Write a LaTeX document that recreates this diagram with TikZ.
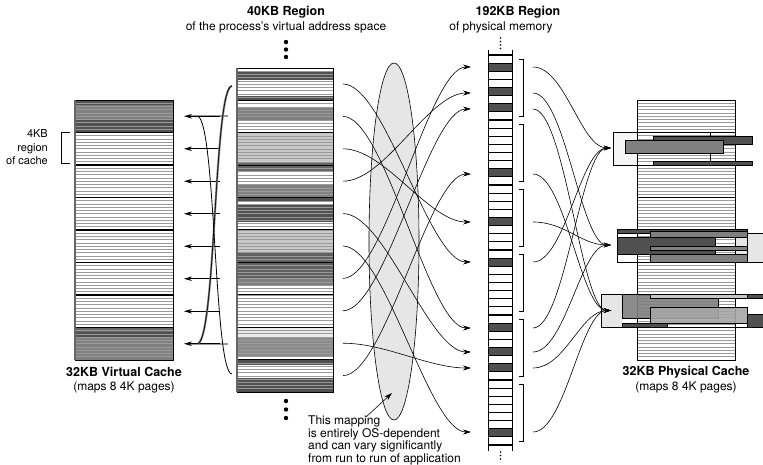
\documentclass[tikz,border=0pt]{standalone}
\usepackage{fontspec}
\setmainfont{TeX Gyre Heros}
\usetikzlibrary{arrows.meta}
\definecolor{dk}{HTML}{505050}
\definecolor{md}{HTML}{808080}
\definecolor{lt}{HTML}{C8C8C8}
\definecolor{vl}{HTML}{E6E6E6}
\definecolor{stripe}{HTML}{9A9A9A}
\begin{document}
\begin{tikzpicture}[x=1pt,y=-1pt,
  title/.style={font=\bfseries\fontsize{12.5}{14}\selectfont, inner sep=0pt},
  sub/.style={font=\fontsize{12}{14}\selectfont, inner sep=0pt},
  note/.style={font=\fontsize{12}{13}\selectfont, inner sep=0pt, anchor=base west},
  lab/.style={font=\fontsize{11}{12}\selectfont, inner sep=0pt, anchor=base east},
  map/.style={line width=0.6pt, -{Stealth[length=8pt,width=5pt]}},
  bar/.style={draw=black, line width=0.5pt},
  dot/.style={fill=black}
  ]
\useasboundingbox (0,0) rectangle (763,465);
\fill[white] (0,0) rectangle (763,465);

% ---------------- titles
\node[title] (t40) at (286,12) {40KB Region};
\node[sub] (s40) at (286,27) {of the process's virtual address space};
\node[title] (t192) at (518,12) {192KB Region};
\node[sub] (s192) at (501,27) {of physical memory};
\node[title] (tvc) at (124,372) {32KB Virtual Cache};
\node[sub] (svc) at (124,387) {(maps 8 4K pages)};
\node[title] (tpc) at (686,372) {32KB Physical Cache};
\node[sub] (spc) at (686,387) {(maps 8 4K pages)};

% ---------------- left virtual cache
\fill[white] (75,100) rectangle (173,360);
\fill[dk] (75,100) rectangle (173,105);
\fill[md] (75,105) rectangle (173,120);
\fill[dk] (75,120) rectangle (173,133);
\fill[black!60] (75,327) rectangle (173,332);
\fill[dk] (75,332) rectangle (173,338);
\fill[md] (75,338) rectangle (173,360);
\foreach \i in {1,...,79} \draw[stripe, line width=0.6pt] (75,{100+3.25*\i}) -- (173,{100+3.25*\i});
\foreach \k in {1,...,7} \draw[line width=1.1pt] (75,{100+32.5*\k}) -- (173,{100+32.5*\k});
\draw[line width=0.8pt] (75,100) rectangle (173,360);
\draw[black!60, line width=1.2pt] (75,100) -- (75,360);

% bracket label
\draw[line width=1pt] (70,133) -- (61,133) -- (61,164) -- (70,164);
\node[lab] (l1) at (48,138) {4KB};
\node[lab] (l2) at (48,151.5) {region};
\node[lab] (l3) at (48,165) {of cache};

% ---------------- middle column (40KB region)
\fill[white] (237,68) rectangle (333,392);
\foreach \a/\b/\c in {72/80/dk, 96/100/dk, 108/120/md, 132/163/lt, 163/172/black!60, 185/197/md, 197/202/dk, 205/222/dk, 230/252/lt, 252/278/black!62, 278/285/md, 327/338/black!8, 338/357/black!45, 360/365/dk, 378/392/dk}
  \fill[\c] (237,\a) rectangle (333,\b);
\foreach \i in {1,...,99} \draw[stripe, line width=0.6pt] (237,{68+3.24*\i}) -- (333,{68+3.24*\i});
\foreach \k in {1,...,9} \draw[line width=1pt] (237,{68+32.4*\k}) -- (333,{68+32.4*\k});
\draw[line width=0.7pt] (237,68) rectangle (333,392);
\draw[black!60, line width=1.5pt] (237,68) -- (237,392);
\foreach \y in {42,49.5,57,401,409.5,418} \fill (286,\y) circle [radius=2.2pt];

% ---------------- left arrows and wrap-around curves
\foreach \k in {0,7} \draw[black!40, line width=2.5pt] (190,{116.25+32.5*\k}) -- (228,{116.25+32.5*\k});
\foreach \k in {0,...,7} {
  \coordinate (va\k) at (220,{116.25+32.5*\k});
  \coordinate (ca\k) at (184,{116.25+32.5*\k});
  \draw[line width=0.6pt, -{Stealth[length=8pt,width=4.5pt]}] (va\k) -- (ca\k);
}
\coordinate (wtop) at (232,86);
\coordinate (wbot) at (232,374);
\coordinate (htop) at (198,116.25);
\coordinate (hbot) at (198,343.75);
\draw[black!55, line width=2pt] (wtop) .. controls (214,86) and (216,335) .. (hbot);
\draw[line width=0.6pt] (wtop) .. controls (214,86) and (216,335) .. (hbot);
\draw[line width=0.8pt] (wbot) .. controls (214,374) and (216,125) .. (htop);

% ---------------- ellipse
\draw[fill=vl, line width=0.6pt] (394,241.5) ellipse [x radius=25pt, y radius=178.5pt];

% ---------------- physical memory column
\foreach \k in {0,...,47} \fill[white] (488,{55+8.125*\k}) rectangle (512,{55+8.125*(\k+1)});
\foreach \k in {1,4,6,14,20,25,33,36,38,46} \fill[dk] (488,{55+8.125*\k}) rectangle (512,{55+8.125*(\k+1)});
\foreach \k in {0,...,48} \draw[line width=1.2pt] (488,{55+8.125*\k}) -- (512,{55+8.125*\k});
\draw[line width=0.9pt] (488,50) -- (488,451) (512,50) -- (512,451);
\foreach \y in {38,41.5,45,48.5,452,455.5,459} \fill (500.5,\y) circle [radius=0.9pt];

% brackets
\foreach \j in {0,...,5} \draw[line width=0.8pt] (519,{59+65*\j}) -- (523.5,{59+65*\j}) -- (523.5,{116+65*\j}) -- (519,{116+65*\j});

% ---------------- virtual -> physical mapping curves
\foreach \v/\p in {0/262,1/328,2/222,3/93,4/352,5/432,6/67,7/109,8/368,9/174} {
  \coordinate (vm\v) at (343,{84+32.4*\v});
  \coordinate (pm\v) at (471,\p);
  \draw[map] (vm\v) .. controls +(42,0) and +(-42,0) .. (pm\v);
}

% annotation
\node[note] (n1) at (308,424.5) {This mapping};
\node[note] (n2) at (308,437) {is entirely OS-dependent};
\node[note] (n3) at (308,449.5) {and can vary significantly};
\node[note] (n4) at (308,462) {from run to run of application};
\coordinate (nt) at (392,393);
\draw[line width=0.6pt, -{Stealth[length=8pt,width=5pt]}] (366,417) -- (nt);

% ---------------- physical cache
\fill[white] (637,100) rectangle (735,360);
\foreach \i in {1,...,79} \draw[stripe, line width=0.6pt] (637,{100+3.25*\i}) -- (735,{100+3.25*\i});
\foreach \k in {1,...,7} \draw[line width=0.9pt] (637,{100+32.5*\k}) -- (735,{100+32.5*\k});
\draw[line width=0.8pt] (637,100) rectangle (735,360);

% group page 1
\fill[black!4] (613,132.5) rectangle (637,165);
\draw[line width=0.6pt] (613,132.5) rectangle (735,165);
\draw[bar, fill=dk] (653,136) rectangle (752,144);
\draw[bar, fill=md] (625,140) rectangle (723,153);
\draw[bar, fill=dk] (653,161) rectangle (752,165);
\draw[line width=0.6pt] (710,132.5) -- (710,136) (710,153) -- (710,161);

% group page 4
\draw[bar, fill=vl] (735,233) rectangle (763,262);
\fill[white] (617,229) rectangle (637,262);
\draw[line width=0.6pt] (617,229) rectangle (747,262);
\draw[bar, fill=dk] (617,229) rectangle (747,233);
\draw[bar, fill=md] (650,231) rectangle (747,237);
\draw[bar, fill=dk] (617,237) rectangle (715,254);
\draw[bar, fill=md] (650,246) rectangle (747,250);
\draw[bar, fill=md] (650,254) rectangle (747,262);

% group page 6
\fill[vl] (601,294) rectangle (622,327.5);
\draw[line width=0.6pt] (601,294) rectangle (763,327.5);
\draw[bar, fill=md, fill opacity=0.9] (622,294) rectangle (718,318);
\draw[bar, fill=lt] (650,294) rectangle (747,298);
\draw[bar, fill=dk] (747,294) rectangle (763,298);
\draw[bar, fill=black!35, fill opacity=0.9] (650,307) rectangle (747,323);
\draw[bar, fill=dk] (747,314) rectangle (763,327.5);
\draw[bar, fill=dk] (622,323) rectangle (667,327.5);

% ---------------- physical -> cache curves
\coordinate (c1) at (611,148);
\coordinate (c4) at (611,245);
\coordinate (c6) at (611,310.5);
\foreach \y/\t in {67/c1, 262/c1, 328/c1, 93/c4, 222/c4, 352/c4, 109/c6, 174/c6, 368/c6, 432/c6} {
  \coordinate (pc\y) at (533,\y);
  \draw[map, -{Stealth[length=7pt,width=4.5pt]}] (pc\y) .. controls +(32,0) and +(-30,0) .. (\t);
}
\end{tikzpicture}
\end{document}
